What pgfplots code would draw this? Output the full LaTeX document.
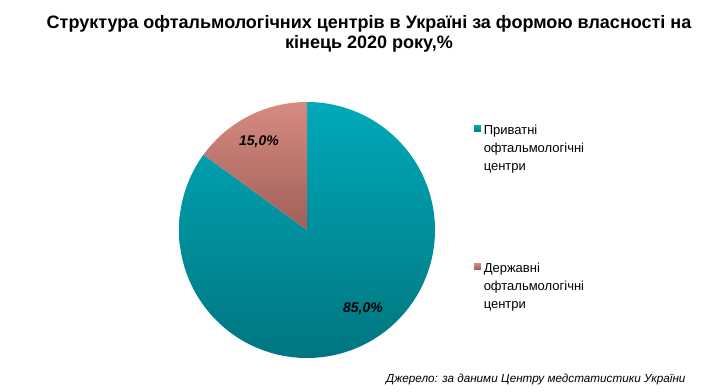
\documentclass[border=0pt]{standalone}
\usepackage{fontspec}
\setmainfont{Liberation Sans}
\usepackage{pgfplots}
\usepackage{pgfplotstable}
\pgfplotsset{compat=1.18}
\definecolor{tealtop}{HTML}{00A9BA}
\definecolor{tealbot}{HTML}{00767F}
\definecolor{rosetop}{HTML}{D68B80}
\definecolor{rosebot}{HTML}{A05F58}
\pgfplotstableread{
share
85.0
15.0
}\datatable
\pgfplotstablegetelem{0}{share}\of\datatable \let\vPriv\pgfplotsretval
\pgfplotstablegetelem{1}{share}\of\datatable \let\vState\pgfplotsretval
\pgfmathsetmacro\aEnd{90-3.6*\vPriv}
\pgfmathsetmacro\bStart{90+3.6*\vState}
\begin{document}
\begin{tikzpicture}
\useasboundingbox (0,0) rectangle (727bp,392bp);
\node[anchor=base,font=\fontsize{18bp}{20bp}\selectfont\bfseries] at (369bp,{(392-28.3)*1bp}) {Структура офтальмологічних центрів в Україні за формою власності на};
\node[anchor=base,font=\fontsize{18bp}{20bp}\selectfont\bfseries] at (369bp,{(392-48.5)*1bp}) {кінець 2020 року,\%};
\begin{axis}[
  at={(307bp,162bp)}, anchor=center,
  width=256bp, height=256bp, scale only axis,
  xmin=-1, xmax=1, ymin=-1, ymax=1,
  hide axis, clip=false,
  legend image code/.code={\path[#1,draw=none] (0bp,2.7bp) rectangle (6.6bp,9.3bp);},
  legend style={at={(1.153,0.930)}, anchor=north west, draw=none, fill=none,
    inner sep=0pt, outer sep=0pt, row sep=120bp, column sep=1bp,
    cells={anchor=base west, inner sep=0pt},
    font=\fontsize{13bp}{18bp}\selectfont},
]
\addplot[draw=none, top color=tealtop, bottom color=tealbot, domain=\aEnd:90, samples=200, variable=\t]
  ({cos(\t)},{sin(\t)}) -- (0,0) -- cycle;
\addlegendentry{\begin{tabular}[t]{@{}l@{}}Приватні\\офтальмологічні\\центри\end{tabular}}
\addplot[draw=none, top color=rosetop, bottom color=rosebot, domain=90:\bStart, samples=60, variable=\t]
  ({cos(\t)},{sin(\t)}) -- (0,0) -- cycle;
\addlegendentry{\begin{tabular}[t]{@{}l@{}}Державні\\офтальмологічні\\центри\end{tabular}}
\node[anchor=base,font=\fontsize{14bp}{16bp}\selectfont\bfseries\itshape] at (axis cs:-0.375,0.664) {15,0\%};
\node[anchor=base,font=\fontsize{14bp}{16bp}\selectfont\bfseries\itshape] at (axis cs:0.4375,-0.648) {85,0\%};
\end{axis}
\node[anchor=base east,font=\fontsize{11.7bp}{14bp}\selectfont\itshape] at (689bp,{(392-382)*1bp}) {Джерело: за даними Центру медстатистики України};
\end{tikzpicture}
\end{document}
